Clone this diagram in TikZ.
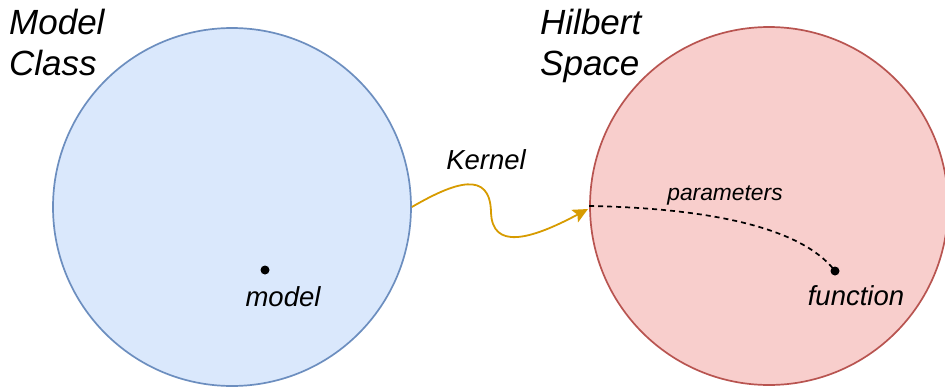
\documentclass[tikz,border=0pt]{standalone}
\usepackage{fontspec}
\setmainfont{Liberation Sans}
\usetikzlibrary{arrows.meta}
\definecolor{bluefill}{HTML}{DAE8FC}
\definecolor{bluedraw}{HTML}{6C8EBF}
\definecolor{redfill}{HTML}{F8CECC}
\definecolor{reddraw}{HTML}{B85450}
\definecolor{kernelcol}{HTML}{D79B00}
\tikzset{
  bigcircle/.style={circle, inner sep=0pt, minimum size=358pt, line width=1.7pt},
  dotnode/.style={circle, fill=black, inner sep=0pt, minimum size=9pt},
  title/.style={font=\fontsize{35}{41}\selectfont\itshape, align=left, anchor=north west, inner sep=0pt},
  label/.style={font=\fontsize{27.5}{32}\selectfont\itshape, inner sep=0pt},
  smalllabel/.style={font=\fontsize{22.8}{27}\selectfont\itshape, inner sep=0pt},
}
\begin{document}
\begin{tikzpicture}[x=1pt,y=-1pt]
\useasboundingbox (0,0) rectangle (945,389);
\node[bigcircle, draw=bluedraw, fill=bluefill] (mc) at (232,207) {};
\node[bigcircle, draw=reddraw, fill=redfill] (hs) at (769,206) {};
\node[title] (t1) at (9,9) {Model\\Class};
\node[title] (t2) at (540,9) {Hilbert\\Space};
\node[dotnode] (md) at (265,270) {};
\node[dotnode] (fd) at (835,271) {};
\node[label] (ml) at (283,297) {model};
\node[label] (fl) at (856,296) {function};
\node[label] (kl) at (486,160) {Kernel};
\node[smalllabel] (pl) at (725,195) {parameters};
\coordinate (ks) at (mc.east);
\coordinate (ke) at (588,209);
\coordinate (ps) at (hs.west);
\draw[kernelcol, line width=1.8pt, -{Stealth[length=15pt,width=14pt,inset=3pt]}]
  (ks) .. controls (455,182) and (490,170) .. (491,212)
  .. controls (492,250) and (530,240) .. (ke);
\draw[black, line width=1.7pt, dash pattern=on 5pt off 4pt]
  (ps) .. controls (700,208) and (800,225) .. (fd.center);
\end{tikzpicture}
\end{document}
